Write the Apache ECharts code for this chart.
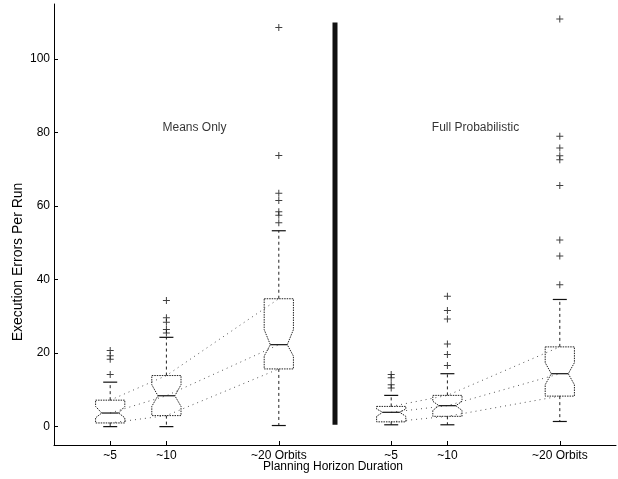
<!DOCTYPE html>
<html>
<head>
<meta charset="utf-8">
<script src="https://cdn.jsdelivr.net/npm/echarts@6/dist/echarts.min.js"></script>
<style>
html,body{margin:0;padding:0;background:#fff;}
#c{width:618px;height:479px;}
</style>
</head>
<body>
<div id="c"></div>
<script>
// Box positions on the horizontal scale and their tick labels
const positions = [1, 2, 4, 6, 7, 9];
const tickLabels = ['~5', '~10', '~20 Orbits', '~5', '~10', '~20 Orbits'];
const groupNames = ['Means Only', 'Full Probabilistic'];
const groupMembers = [[0, 1, 2], [3, 4, 5]];
const dividerPos = 5;
const dividerRange = [0.5, 110];
const groupLabelPos = [[2.5, 81.3], [7.5, 81.3]];
const yTicks = [0, 20, 40, 60, 80, 100];

// Box statistics
const whiskerLow  = [0,    0,    0.3,  0.5, 0.5, 1.4];
const q1          = [1.0,  3.0,  15.7, 1.3, 2.8, 8.3];
const notchLow    = [2.4,  5.5,  19.2, 2.8, 4.4, 11.4];
const median      = [3.7,  8.4,  22.3, 3.9, 5.7, 14.4];
const notchHigh   = [5.5,  11.4, 26.4, 4.8, 6.9, 17.4];
const q3          = [7.2,  13.9, 34.8, 5.5, 8.5, 21.7];
const whiskerHigh = [12.1, 24.3, 53.3, 8.5, 14.4, 34.6];

// Outliers per box
const outliers = [
  [14.2, 18.3, 19.3, 20.7],
  [25.5, 26.4, 28.4, 29.6, 34.3],
  [55.5, 57.5, 58.5, 61.5, 63.5, 73.8, 108.6],
  [10.5, 11.4, 13.3, 14.2],
  [16.6, 19.6, 22.5, 29.3, 31.6, 35.5],
  [38.6, 46.4, 50.8, 65.6, 72.6, 73.7, 75.8, 79.0, 110.9]
];

const FONT = 'Liberation Sans, Arial, Helvetica, sans-serif';

const boxData = positions.map((p, i) => [p, whiskerLow[i], q1[i], notchLow[i], median[i], notchHigh[i], q3[i], whiskerHigh[i]]);
const outlierData = [];
outliers.forEach((arr, i) => arr.forEach(v => outlierData.push([positions[i], v])));

const connectSeries = [];
[q3, median, q1].forEach(stat => {
  groupMembers.forEach(members => {
    connectSeries.push({
      type: 'line',
      data: members.map(i => [positions[i], stat[i]]),
      symbol: 'none',
      silent: true,
      z: 1,
      lineStyle: { color: '#555', width: 1, type: [1, 4] }
    });
  });
});

function renderBox(params, api) {
  const x = api.value(0);
  const unit = api.size([1, 0])[0];
  const hw = unit * 0.26;
  const inset = hw * 0.42;
  const capW = 7;
  const P = v => api.coord([x, v]);
  const cx = P(0)[0];
  const yWL = P(api.value(1))[1], yQ1 = P(api.value(2))[1], yNL = P(api.value(3))[1],
        yMed = P(api.value(4))[1], yNH = P(api.value(5))[1], yQ3 = P(api.value(6))[1],
        yWH = P(api.value(7))[1];
  const L = cx - hw, R = cx + hw;
  const poly = [[L, yQ3], [R, yQ3], [R, yNH], [R - inset, yMed], [R, yNL], [R, yQ1],
                [L, yQ1], [L, yNL], [L + inset, yMed], [L, yNH]];
  return {
    type: 'group',
    children: [
      { type: 'polygon', shape: { points: poly },
        style: { fill: 'none', stroke: '#222', lineWidth: 1, lineDash: [1.5, 1] } },
      { type: 'line', shape: { x1: L + inset, y1: yMed, x2: R - inset, y2: yMed },
        style: { stroke: '#111', lineWidth: 1.2 } },
      { type: 'line', shape: { x1: cx, y1: yQ3, x2: cx, y2: yWH },
        style: { stroke: '#222', lineWidth: 1, lineDash: [3, 3] } },
      { type: 'line', shape: { x1: cx, y1: yQ1, x2: cx, y2: yWL },
        style: { stroke: '#222', lineWidth: 1, lineDash: [3, 3] } },
      { type: 'line', shape: { x1: cx - capW, y1: yWH, x2: cx + capW, y2: yWH },
        style: { stroke: '#111', lineWidth: 1.2 } },
      { type: 'line', shape: { x1: cx - capW, y1: yWL, x2: cx + capW, y2: yWL },
        style: { stroke: '#111', lineWidth: 1.2 } }
    ]
  };
}

const chart = echarts.init(document.getElementById('c'), null, { renderer: 'canvas' });
chart.setOption({
  animation: false,
  backgroundColor: '#fff',
  textStyle: { fontFamily: FONT },
  grid: { left: 54, right: 2, top: 4, bottom: 34, containLabel: false, outerBoundsMode: 'none' },
  graphic: [{
    type: 'text', x: 18, y: 262, rotation: Math.PI / 2,
    style: { text: 'Execution Errors Per Run', fontFamily: FONT, fontSize: 14, fill: '#000',
             align: 'center', verticalAlign: 'middle' }
  }, {
    type: 'text', x: 333, y: 467,
    style: { text: 'Planning Horizon Duration', fontFamily: FONT, fontSize: 12, fill: '#000',
             align: 'center', verticalAlign: 'middle' }
  }],
  xAxis: {
    type: 'value', min: 0, max: 10,
    axisLine: { show: true, onZero: false, lineStyle: { color: '#000', width: 1 } },
    axisTick: { show: true, inside: true, length: 4, customValues: positions, lineStyle: { color: '#000' } },
    axisLabel: { show: true, customValues: positions, margin: 5, fontFamily: FONT, fontSize: 12, color: '#000',
      formatter: v => { const i = positions.indexOf(v); return i >= 0 ? tickLabels[i] : ''; } },
    splitLine: { show: false }
  },
  yAxis: {
    type: 'value', min: -5, max: 115,
    axisLine: { show: true, onZero: false, lineStyle: { color: '#000', width: 1 } },
    axisTick: { show: true, inside: true, length: 4, customValues: yTicks, lineStyle: { color: '#000' } },
    axisLabel: { show: true, customValues: yTicks, margin: 4, fontFamily: FONT, fontSize: 12, color: '#000' },
    splitLine: { show: false }
  },
  series: [
    ...connectSeries,
    {
      type: 'line',
      data: [[dividerPos, dividerRange[0]], [dividerPos, dividerRange[1]]],
      symbol: 'none', silent: true, z: 3,
      lineStyle: { color: '#111', width: 5 }
    },
    {
      type: 'custom',
      data: boxData,
      renderItem: renderBox,
      encode: { x: 0, y: [1, 2, 3, 4, 5, 6, 7] },
      z: 4, silent: true
    },
    {
      type: 'scatter',
      data: outlierData,
      symbol: 'path://M3,0H4V3H7V4H4V7H3V4H0V3H3Z',
      symbolSize: 7,
      itemStyle: { color: '#111' },
      z: 5, silent: true
    },
    {
      type: 'scatter',
      data: groupLabelPos.map((p, i) => ({ value: p, name: groupNames[i] })),
      symbolSize: 1,
      itemStyle: { color: 'rgba(0,0,0,0)' },
      label: { show: true, position: 'inside', formatter: '{b}', fontFamily: FONT, fontSize: 12, color: '#000' },
      z: 6, silent: true
    }
  ]
});
</script>
</body>
</html>
